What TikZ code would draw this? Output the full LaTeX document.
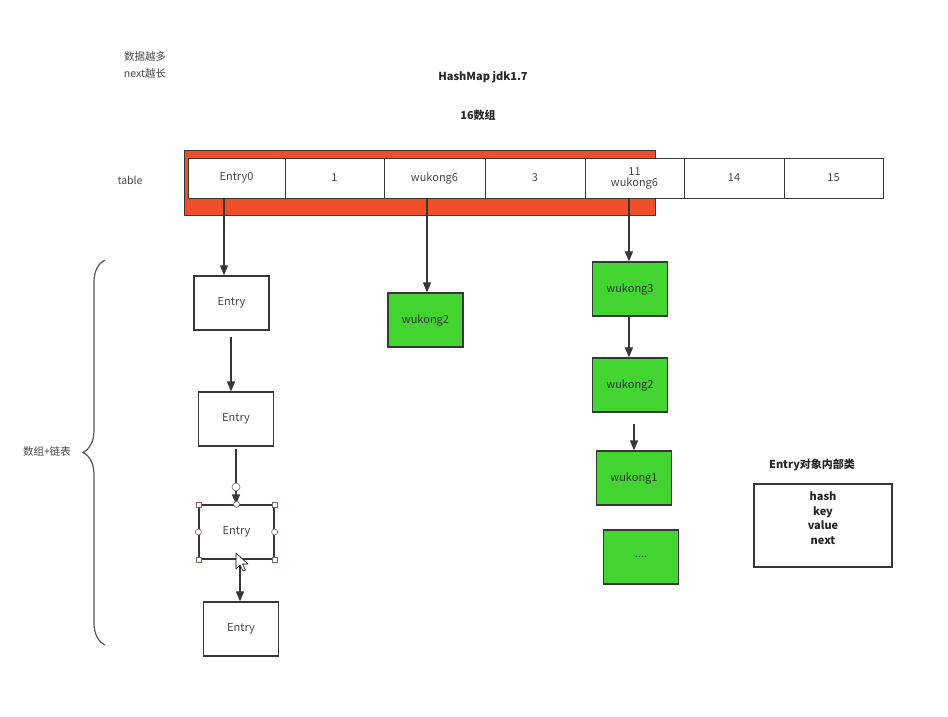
\documentclass[tikz,border=0pt]{standalone}
\usepackage{fontspec}
\setmainfont{Noto Sans CJK SC}
\usetikzlibrary{arrows.meta,decorations.pathreplacing}
\definecolor{edge}{RGB}{55,55,55}
\definecolor{slotred}{RGB}{238,78,42}
\definecolor{nodegreen}{RGB}{66,212,48}
\definecolor{handle}{RGB}{140,95,95}
\definecolor{txt}{RGB}{70,70,70}
\tikzset{
  cell/.style={draw=edge, line width=1pt, fill=white, minimum width=100pt, minimum height=40pt, inner sep=0pt, text=txt, font=\fontsize{11}{13}\selectfont, align=center},
  entrybox/.style={draw=edge, line width=1.2pt, fill=white, minimum width=75pt, minimum height=54pt, inner sep=0pt, text=txt, font=\fontsize{11}{13}\selectfont},
  greenbox/.style={entrybox, fill=nodegreen, text=black!80},
  arr/.style={draw=edge, line width=1.3pt, -{Triangle[width=8pt,length=10pt]}},
  lbl/.style={text=txt, font=\fontsize{10.5}{12}\selectfont, inner sep=0pt},
  boldlbl/.style={text=black!85, font=\bfseries\fontsize{11}{13}\selectfont, inner sep=0pt},
  grip/.style={draw=handle, fill=white, line width=0.6pt}
}
\begin{document}
\begin{tikzpicture}[x=1pt,y=-1pt]
\useasboundingbox (0,0) rectangle (948,717);

% captions
\node[lbl] (note1) at (145,57) {数据越多};
\node[lbl] (note2) at (145,73) {next越长};
\node[boldlbl] (title) at (483,77) {HashMap jdk1.7};
\node[boldlbl] (size) at (478,115) {16数组};
\node[lbl] (tbl) at (130,180) {table};

% highlighted part of the bucket array
\node[draw=edge, line width=1pt, fill=slotred, minimum width=471pt, minimum height=65pt, inner sep=0pt] (hl) at (419.5,182.5) {};

% bucket array
\node[cell, minimum width=97pt] (c0) at (236.5,178) {Entry0};
\node[cell, minimum width=99pt] (c1) at (334.5,178) {1};
\node[cell, minimum width=101pt] (c2) at (434.5,178) {wukong6};
\node[cell] (c3) at (535,178) {3};
\node[cell, minimum width=99pt] (c4) at (634.5,178) {11\\[-2pt]wukong6};
\node[cell] (c5) at (734,178) {14};
\node[cell, minimum width=99pt] (c6) at (833.5,178) {15};

% chain under slot 0
\node[entrybox] (e1) at (231.5,303) {Entry};
\node[entrybox] (e2) at (236,419) {Entry};
\node[entrybox] (e3) at (236.5,532) {Entry};
\node[entrybox] (e4) at (241,629) {Entry};

\coordinate (e1out) at (231,337);
\coordinate (e2out) at (236,449);
\coordinate (e3out) at (240,559);

\draw[arr] (c0.south -| 224,0) -- (e1.north -| 224,0);
\draw[arr] (e1out) -- (e2.north -| e1out);
\draw[arr] (e2out) -- (e3.north -| e2out);
\draw[arr] (e3out) -- (e4.north -| e3out);

% selection handles on the third entry
\foreach \p in {north west,north east,south west,south east}
  \draw[grip] ([xshift=-2.5pt,yshift=-2.5pt]e3.\p) rectangle ++(5pt,5pt);
\foreach \p in {west,east,north}
  \draw[grip] (e3.\p) circle (3pt);
\draw[grip] (236,487) circle (4pt);

% mouse pointer
\draw[fill=white, draw=black, line width=0.6pt, line join=round]
  (236,553) -- (236,569) -- (240,565) -- (243,571) -- (245.5,570) -- (242.5,564) -- (248,564) -- cycle;

% slot 2
\node[greenbox] (g0) at (425.5,320) {wukong2};
\draw[arr] (c2.south -| 427,0) -- (g0.north -| 427,0);

% chain under slot 11
\node[greenbox] (g1) at (630,289) {wukong3};
\node[greenbox] (g2) at (630,385) {wukong2};
\node[greenbox] (g3) at (634,478) {wukong1};
\node[greenbox] (g4) at (641,557) {....};
\coordinate (g2out) at (634,424);

\draw[arr] (c4.south -| 629,0) -- (g1.north -| 629,0);
\draw[arr] (g1.south -| 629,0) -- (g2.north -| 629,0);
\draw[arr] (g2out) -- (g3.north -| g2out);

% brace and its caption
\draw[edge!85, line width=1.2pt, decorate, decoration={brace, amplitude=22pt}]
  (105,645) -- (105,260);
\node[lbl] (combo) at (47,452) {数组+链表};

% Entry fields
\node[boldlbl] (entrytitle) at (812,465) {Entry对象内部类};
\node[draw=edge, line width=1.2pt, minimum width=138pt, minimum height=83pt, inner sep=0pt] (fields) at (823,525.5) {};
\node[boldlbl, align=center, font=\bfseries\fontsize{11}{14.5}\selectfont] (fieldtext) at (823,518) {hash\\key\\value\\next};
\end{tikzpicture}
\end{document}
